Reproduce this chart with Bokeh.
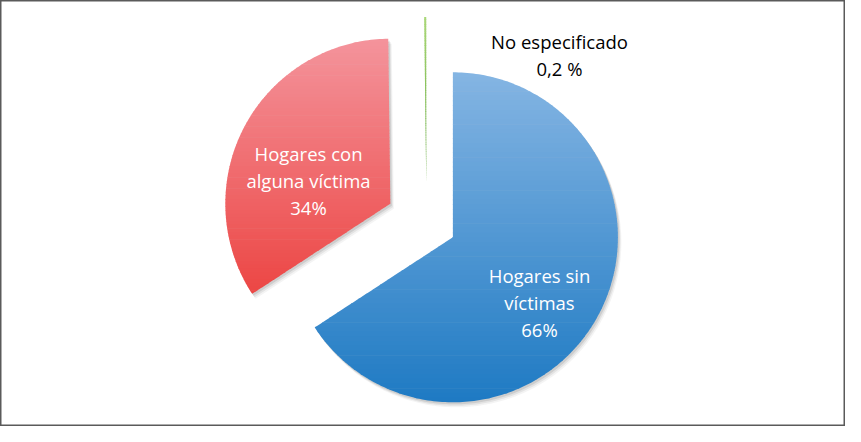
import math
from bokeh.plotting import figure
from bokeh.models import Range1d
from bokeh.core.properties import value
from bokeh.embed import file_html
from bokeh.resources import INLINE

# ---- data ----
categories = ["Hogares sin víctimas", "Hogares con alguna víctima", "No especificado"]
shares = [65.8, 34.0, 0.2]
labels = ["Hogares sin\nvíctimas\n66%", "Hogares con\nalguna víctima\n34%", "No especificado\n0,2 %"]

# ---- style / layout ----
W, H = 845, 426
CX, CY, R = 426.0, 203.5, 165.0
explode = [30.0, 41.0, 41.0]
grad_top = [(133, 181, 227), (244, 148, 156), (170, 215, 120)]
grad_bot = [(30, 122, 195), (236, 70, 68), (95, 165, 55)]
label_pos = [(539, 124), (308, 246), (559, 372)]
label_col = ["white", "white", "black"]


def wedge_poly(cx, cy, r, a0, a1):
    n = max(4, int(abs(a1 - a0) / math.pi * 180))
    pts = [(cx, cy)]
    for i in range(n + 1):
        a = a0 + (a1 - a0) * i / n
        pts.append((cx + r * math.cos(a), cy + r * math.sin(a)))
    return pts


def clip(poly, yv, keep_above):
    out = []
    if not poly:
        return out
    def inside(p):
        return p[1] >= yv if keep_above else p[1] <= yv
    prev = poly[-1]
    for cur in poly:
        ci, pi = inside(cur), inside(prev)
        if ci:
            if not pi:
                t = (yv - prev[1]) / (cur[1] - prev[1])
                out.append((prev[0] + t * (cur[0] - prev[0]), yv))
            out.append(cur)
        elif pi:
            t = (yv - prev[1]) / (cur[1] - prev[1])
            out.append((prev[0] + t * (cur[0] - prev[0]), yv))
        prev = cur
    return out


def hexc(c):
    return "#%02x%02x%02x" % tuple(int(round(v)) for v in c)


p = figure(width=W, height=H, output_backend="svg", toolbar_location=None,
           x_range=Range1d(0, W), y_range=Range1d(0, H), min_border=0)
p.axis.visible = False
p.grid.visible = False
p.outline_line_color = "#5a5a5a"
p.outline_line_width = 2
p.background_fill_color = "white"
p.border_fill_color = "white"

total = sum(shares)
start = math.pi / 2
polys = []
for i, s in enumerate(shares):
    sweep = 2 * math.pi * s / total
    a0 = start - sweep
    a1 = start
    mid = (a0 + a1) / 2
    cx = CX + explode[i] * math.cos(mid)
    cy = CY + explode[i] * math.sin(mid)
    polys.append(wedge_poly(cx, cy, R, a0, a1))
    start = a0

# shadows
for dx, dy, al in [(3.5, -5.0, 0.06), (2.5, -3.5, 0.10), (1.5, -2.0, 0.14)]:
    xs = [[q[0] + dx for q in poly] for poly in polys[:2]]
    ys = [[q[1] + dy for q in poly] for poly in polys[:2]]
    p.patches(xs, ys, fill_color="#4a4a4a", fill_alpha=al, line_color=None)

# gradient slices as horizontal bands
for i, poly in enumerate(polys):
    ymin = min(q[1] for q in poly)
    ymax = max(q[1] for q in poly)
    nb = 70
    bxs, bys, cols = [], [], []
    for b in range(nb):
        yhi = ymax - (ymax - ymin) * b / nb
        ylo = ymax - (ymax - ymin) * (b + 1) / nb
        part = clip(clip(poly, ylo - 0.6, True), yhi, False)
        if len(part) < 3:
            continue
        t = (b + 0.5) / nb
        c = [grad_top[i][k] + (grad_bot[i][k] - grad_top[i][k]) * t for k in range(3)]
        bxs.append([q[0] for q in part])
        bys.append([q[1] for q in part])
        cols.append(hexc(c))
    p.patches(bxs, bys, fill_color=cols, line_color=None)

# labels
for i, lab in enumerate(labels):
    p.text(x=[label_pos[i][0]], y=[label_pos[i][1]], text=[lab],
           text_align="center", text_baseline="middle",
           text_font=value("Open Sans"), text_font_size="18.5px",
           text_color=label_col[i], text_line_height=1.08)

open("out.html", "w").write(file_html(p, INLINE))
